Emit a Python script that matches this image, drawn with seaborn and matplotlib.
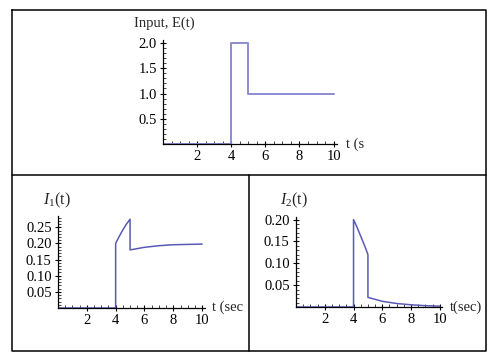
import matplotlib
matplotlib.use("Agg")
import matplotlib.pyplot as plt
import seaborn as sns
import pandas as pd
from matplotlib.lines import Line2D
from matplotlib.ticker import MultipleLocator

# ---- data ----
t_E = [0, 4, 4, 5, 5, 10]
E_vals = [0, 0, 2.0, 2.0, 1.0, 1.0]

t_I1 = [0, 4, 4, 4.25, 4.5, 4.75, 5, 5, 6, 7, 8, 9, 10]
I1_vals = [0, 0, 0.200, 0.222, 0.242, 0.260, 0.275, 0.180, 0.188, 0.193, 0.196, 0.197, 0.198]

t_I2 = [0, 4, 4, 4.25, 4.5, 4.75, 5, 5, 6, 7, 8, 9, 10]
I2_vals = [0, 0, 0.200, 0.182, 0.162, 0.142, 0.120, 0.022, 0.013, 0.008, 0.005, 0.003, 0.002]

x_ticks = [2, 4, 6, 8, 10]
E_ticks = [0.5, 1.0, 1.5, 2.0]
I1_ticks = [0.05, 0.10, 0.15, 0.20, 0.25]
I2_ticks = [0.05, 0.10, 0.15, 0.20]

sns.set_style("white")
plt.rcParams["font.family"] = ["Liberation Serif", "DejaVu Serif"]
plt.rcParams["mathtext.fontset"] = "custom"
plt.rcParams["mathtext.rm"] = "Liberation Serif"
plt.rcParams["mathtext.it"] = "Liberation Serif:italic"

FS = 10.5
W, H = 493, 362
fig = plt.figure(figsize=(W / 100, H / 100), dpi=100)
fig.patch.set_facecolor("white")


def px_axes(x0, y0, x1, y1):
    # pixel box (left, top, right, bottom) -> figure axes
    return fig.add_axes([x0 / W, 1 - y1 / H, (x1 - x0) / W, (y1 - y0) / H])


def style_axes(ax, xlim, ylim, yticks, ydec, minor_y):
    ax.set_xlim(*xlim)
    ax.set_ylim(*ylim)
    ax.set_facecolor("none")
    for s in ["top", "right"]:
        ax.spines[s].set_visible(False)
    for s in ["left", "bottom"]:
        ax.spines[s].set_position(("data", 0))
        ax.spines[s].set_linewidth(0.9)
        ax.spines[s].set_color("black")
    ax.set_xticks(x_ticks)
    ax.set_xticklabels([str(v) for v in x_ticks])
    ax.set_yticks(yticks)
    ax.set_yticklabels([f"{v:.{ydec}f}" for v in yticks])
    ax.xaxis.set_minor_locator(MultipleLocator(0.5))
    ax.yaxis.set_minor_locator(MultipleLocator(minor_y))
    ax.tick_params(which="major", direction="inout", length=5, width=0.8,
                   labelsize=FS, pad=2, colors="black", bottom=True, left=True)
    ax.tick_params(which="minor", direction="in", length=2.5, width=0.6,
                   bottom=True, left=True)
    ax.set_xlabel("")
    ax.set_ylabel("")


# ---- top plot: input E(t) ----
ax0 = px_axes(163, 40, 337, 144)
dfE = pd.DataFrame({"t": t_E, "v": E_vals})
sns.lineplot(data=dfE, x="t", y="v", ax=ax0, sort=False, estimator=None,
             color="#8b8bd2", lw=1.4)
style_axes(ax0, (0, 10.2), (0, 2.06), E_ticks, 1, 0.1)
fig.text(164 / W, 1 - 23 / H, "Input, E(t)", ha="center", va="center", fontsize=FS)
fig.text(346 / W, 1 - 144 / H, "t (s", ha="left", va="center", fontsize=FS)

# ---- bottom left: I1(t) ----
ax1 = px_axes(58, 216, 205, 308)
df1 = pd.DataFrame({"t": t_I1, "v": I1_vals})
sns.lineplot(data=df1, x="t", y="v", ax=ax1, sort=False, estimator=None,
             color="#5a5ab4", lw=1.1)
style_axes(ax1, (0, 10.2), (0, 0.285), I1_ticks, 2, 0.01)
fig.text(57 / W, 1 - 200 / H, r"$I_1$(t)", ha="center", va="center", fontsize=11.5)
fig.text(212 / W, 1 - 307 / H, "t (sec", ha="left", va="center", fontsize=FS)

# ---- bottom right: I2(t) ----
ax2 = px_axes(296, 217, 442, 307)
df2 = pd.DataFrame({"t": t_I2, "v": I2_vals})
sns.lineplot(data=df2, x="t", y="v", ax=ax2, sort=False, estimator=None,
             color="#5a5ab4", lw=1.1)
style_axes(ax2, (0, 10.15), (0, 0.206), I2_ticks, 2, 0.01)
fig.text(294 / W, 1 - 200 / H, r"$I_2$(t)", ha="center", va="center", fontsize=11.5)
fig.text(450 / W, 1 - 307 / H, "t(sec)", ha="left", va="center", fontsize=FS)

# ---- frame lines ----
def fline(xs, ys):
    fig.add_artist(Line2D([x / W for x in xs], [1 - y / H for y in ys],
                          color="black", lw=1.1))

fline([11.5, 485.5, 485.5, 11.5, 11.5], [9.5, 9.5, 350.5, 350.5, 9.5])
fline([11.5, 485.5], [175, 175])
fline([249.3, 249.3], [175, 350.5])

fig.savefig("out.png", dpi=100)
